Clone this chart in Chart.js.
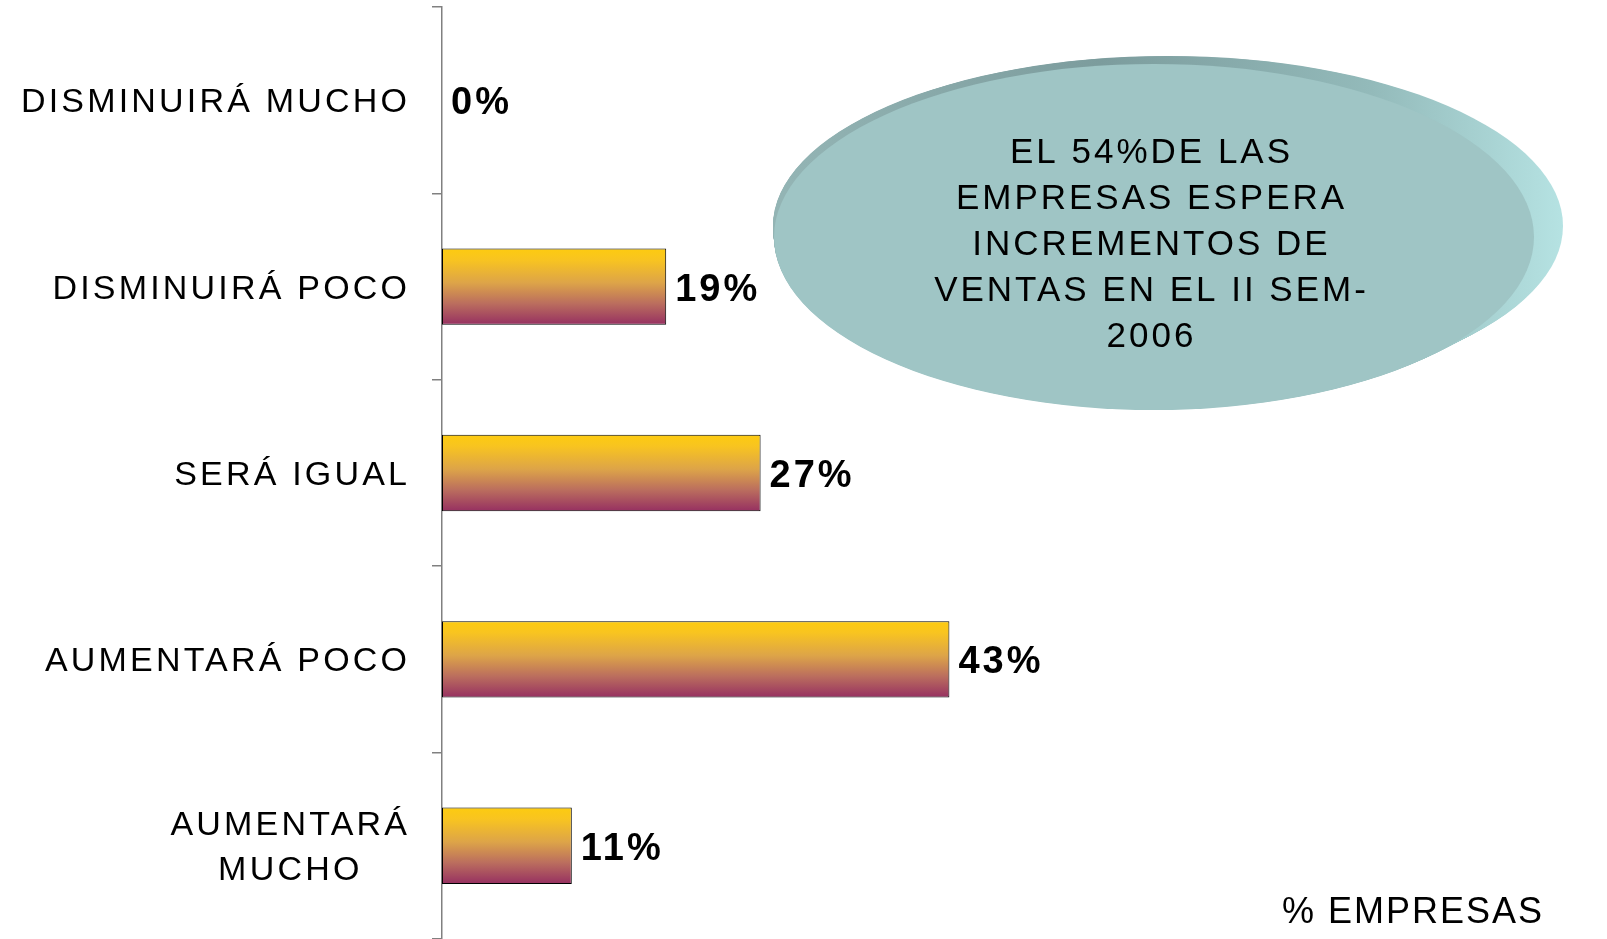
<!DOCTYPE html>
<html>
<head>
<meta charset="utf-8">
<script src="https://cdn.jsdelivr.net/npm/chart.js@4.4.0/dist/chart.umd.min.js"></script>
<style>
  html, body { margin: 0; padding: 0; background: #fff; }
  #wrap { width: 1607px; height: 939px; }
</style>
</head>
<body>
<div id="wrap"><canvas id="myChart"></canvas></div>
<script>
var categories = ["DISMINUIRÁ MUCHO", "DISMINUIRÁ POCO", "SERÁ IGUAL", "AUMENTARÁ POCO", ["AUMENTARÁ", "MUCHO"]];
var empresas = [0, 19, 27, 43, 11];
var valueLabels = ["0%", "19%", "27%", "43%", "11%"];
var xMax = 95;
var axisTitle = "% EMPRESAS";
var noteLines = ["EL 54%DE LAS", "EMPRESAS ESPERA", "INCREMENTOS DE", "VENTAS EN EL II SEM-", "2006"];

var FONT = '"Liberation Sans", Arial, sans-serif';
var BAR_PCT = 0.41;

// vertical yellow -> purple fill, one gradient per bar
function barGradient(context) {
  var chart = context.chart;
  var y = chart.scales.y;
  if (!y || context.dataIndex === undefined) return "#f5c020";
  var center = y.getPixelForValue(context.dataIndex);
  var half = (y.height / categories.length) * BAR_PCT / 2;
  if (!isFinite(center) || !isFinite(half) || half <= 0) return "#f5c020";
  var g = chart.ctx.createLinearGradient(0, center - half, 0, center + half);
  g.addColorStop(0, "#fdcb10");
  g.addColorStop(0.15, "#f8c420");
  g.addColorStop(0.45, "#dda448");
  g.addColorStop(0.72, "#bb6e5e");
  g.addColorStop(1, "#963061");
  return g;
}

// the teal disc with the note
function drawNote(ctx) {
  var front = { x: 1154, y: 237, rx: 380, ry: 173 };
  var back = { x: 1168, y: 226, rx: 395, ry: 170 };
  ctx.save();
  var side = ctx.createLinearGradient(790, 0, 1565, 0);
  side.addColorStop(0, "#93b4b4");
  side.addColorStop(0.4, "#7c9c9d");
  side.addColorStop(0.75, "#93baba");
  side.addColorStop(1, "#b6e3e3");
  ctx.fillStyle = side;
  for (var i = 24; i >= 1; i--) {
    var t = i / 24;
    ctx.beginPath();
    ctx.ellipse(front.x + (back.x - front.x) * t, front.y + (back.y - front.y) * t,
      front.rx + (back.rx - front.rx) * t, front.ry + (back.ry - front.ry) * t, 0, 0, Math.PI * 2);
    ctx.fill();
  }
  ctx.fillStyle = "#9fc5c5";
  ctx.beginPath();
  ctx.ellipse(front.x, front.y, front.rx, front.ry, 0, 0, Math.PI * 2);
  ctx.fill();

  ctx.fillStyle = "#000";
  ctx.font = "35px " + FONT;
  ctx.letterSpacing = "3px";
  ctx.textAlign = "center";
  ctx.textBaseline = "alphabetic";
  noteLines.forEach(function(line, i) {
    ctx.fillText(line, 1150 + 1.5, 150 + 46 * i + 12.5);
  });
  ctx.restore();
}

var extrasPlugin = {
  id: "extras",
  afterDatasetsDraw: function(chart) {
    var ctx = chart.ctx;
    var y = chart.scales.y;
    var meta = chart.getDatasetMeta(0);

    // category labels, right aligned, wrapped ones centred in their block
    ctx.save();
    ctx.fillStyle = "#000";
    ctx.font = "34px " + FONT;
    ctx.letterSpacing = "3.2px";
    ctx.textBaseline = "alphabetic";
    ctx.textAlign = "center";
    var right = 407 + 3.2;
    categories.forEach(function(label, i) {
      var lines = Array.isArray(label) ? label : [label];
      var widest = 0;
      lines.forEach(function(l) { widest = Math.max(widest, ctx.measureText(l).width); });
      var mid = y.getPixelForValue(i);
      var top = mid - (lines.length - 1) * 45 / 2;
      lines.forEach(function(l, j) {
        ctx.fillText(l, right - widest / 2, top + j * 45 + 12);
      });
    });
    ctx.restore();

    // value labels
    ctx.save();
    ctx.fillStyle = "#000";
    ctx.font = "bold 38px " + FONT;
    ctx.letterSpacing = "3px";
    ctx.textAlign = "left";
    ctx.textBaseline = "alphabetic";
    meta.data.forEach(function(bar, i) {
      ctx.fillText(valueLabels[i], bar.x + 9, bar.y + 14);
    });
    ctx.restore();

    drawNote(ctx);

    // axis title, bottom right
    ctx.save();
    ctx.fillStyle = "#000";
    ctx.font = "36px " + FONT;
    ctx.letterSpacing = "2px";
    ctx.textAlign = "right";
    ctx.textBaseline = "alphabetic";
    ctx.fillText(axisTitle, 1542 + 2, 923);
    ctx.restore();
  }
};

var ctx = document.getElementById("myChart").getContext("2d");
var myChart = new Chart(ctx, {
  type: "bar",
  data: {
    labels: categories,
    datasets: [{
      label: "% EMPRESAS",
      data: empresas,
      backgroundColor: barGradient,
      borderColor: "#000",
      borderWidth: 1,
      borderSkipped: false,
      barPercentage: BAR_PCT,
      categoryPercentage: 1
    }]
  },
  options: {
    indexAxis: "y",
    responsive: true,
    maintainAspectRatio: false,
    animation: false,
    layout: { padding: { top: 7, right: 44, bottom: 0, left: 0 } },
    plugins: {
      legend: { display: false },
      tooltip: { enabled: false }
    },
    scales: {
      x: { display: false, min: 0, max: xMax },
      y: {
        ticks: { display: false },
        grid: {
          offset: true,
          drawOnChartArea: false,
          drawTicks: true,
          tickLength: 10,
          color: "#808080",
          lineWidth: 1.5
        },
        border: { color: "#808080", width: 1.5 },
        afterFit: function(scale) { scale.width = 442; }
      }
    }
  },
  plugins: [extrasPlugin]
});
</script>
</body>
</html>
